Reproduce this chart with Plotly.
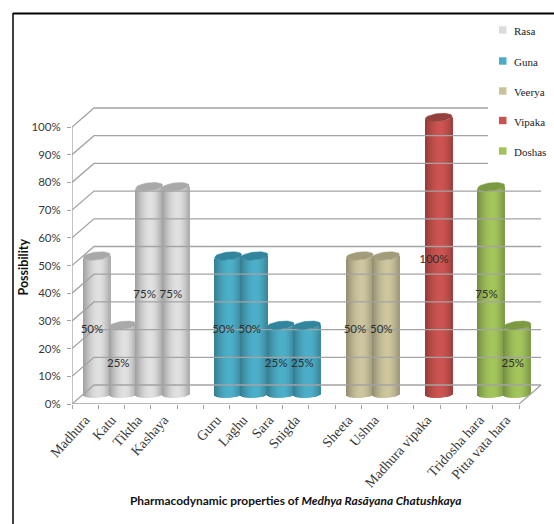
import math
import plotly.graph_objects as go

# Percentages per property group
rasa_names = ["Madhura", "Katu", "Tiktha", "Kashaya"]
rasa_values = [50, 25, 75, 75]
guna_names = ["Guru", "Laghu", "Sara", "Snigda"]
guna_values = [50, 50, 25, 25]
veerya_names = ["Sheeta", "Ushna"]
veerya_values = [50, 50]
vipaka_names = ["Madhura vipaka"]
vipaka_values = [100]
dosha_names = ["Tridosha hara", "Pitta vata hara"]
dosha_values = [75, 25]

group_names = ["Rasa", "Guna", "Veerya", "Vipaka", "Doshas"]
group_colors = ["#dcdcdc", "#4bacc6", "#c9c29b", "#c9524f", "#a0c25a"]
cap_colors = ["#a9a9a9", "#31859c", "#a29c7c", "#93403e", "#7b9a41"]
y_ticks = list(range(0, 101, 10))

W, H = 554, 524
LEFT, RIGHT, TOP, BOTTOM = 72, 545, 100, 404
SLOT_PX = 26.3
PCT_PX = 2.77
DEPTH_X = 22 / SLOT_PX   # wall offset in slots
DEPTH_Y = 19 / PCT_PX    # wall offset in percent
N_SLOTS = 17

GRID = "#a3a3a3"
TEXT = "#3a3a3a"


def paper_x(px):
    return (px - LEFT) / (RIGHT - LEFT)


def paper_y(py):
    return (BOTTOM - py) / (BOTTOM - TOP)


def shade(hex_color, f):
    r, g, b = (int(hex_color[i:i + 2], 16) for i in (1, 3, 5))
    return "rgb({},{},{})".format(*(min(255, round(c * f)) for c in (r, g, b)))


def cylinder_shade(t):
    # dark at both rims, brightest a little right of centre
    if t < 0.15:
        return 0.72 + 0.30 * math.sin((t + 1) / 1.15 * math.pi / 2)
    return 0.78 + 0.24 * math.cos((t - 0.15) / 0.85 * math.pi / 2)


fig = go.Figure()

# Walls and floor of the 3-D frame
for v in y_ticks:
    fig.add_trace(go.Scatter(
        x=[0, DEPTH_X, N_SLOTS + DEPTH_X],
        y=[v, v + DEPTH_Y, v + DEPTH_Y],
        mode="lines", line=dict(color=GRID, width=1.3),
        hoverinfo="skip", showlegend=False))
fig.add_trace(go.Scatter(
    x=[0, 0, None, 0, N_SLOTS, N_SLOTS + DEPTH_X],
    y=[100, 0, None, 0, 0, DEPTH_Y],
    mode="lines", line=dict(color=GRID, width=1.3),
    hoverinfo="skip", showlegend=False))

# Cylinders: each one is a fan of one-pixel bars so the body can carry a gradient
STRIPS = 27
HALF_W = 13.5 / SLOT_PX
BOTTOM_RY = 3.2 / PCT_PX
TOP_RY = 4.0 / PCT_PX
BOTTOM_TILT = 0.7 / PCT_PX
TOP_TILT = 1.4 / PCT_PX
FLOOR_Y = 9.5 / PCT_PX
CENTER_SHIFT = 0.437

groups = [
    (rasa_names, rasa_values),
    (guna_names, guna_values),
    (veerya_names, veerya_values),
    (vipaka_names, vipaka_values),
    (dosha_names, dosha_values),
]

tick_pos, tick_text = [], []
label_x, label_y, label_text = [], [], []
slot = 0
for g, (names, values) in enumerate(groups):
    for name, value in zip(names, values):
        cx = slot + 0.5 + CENTER_SHIFT
        step = 2 * HALF_W / STRIPS
        xs, bases, heights, colors = [], [], [], []
        for k in range(STRIPS):
            t = -1 + (k + 0.5) * 2 / STRIPS
            arc = math.sqrt(1 - t * t)
            base = FLOOR_Y - BOTTOM_RY * arc + BOTTOM_TILT * t
            top = value + FLOOR_Y - TOP_RY * arc + TOP_TILT * t
            xs.append(cx + t * HALF_W)
            bases.append(base)
            heights.append(top - base)
            colors.append(shade(group_colors[g], cylinder_shade(t)))
        fig.add_trace(go.Bar(
            x=xs, y=heights, base=bases, width=step,
            marker=dict(color=colors, line=dict(width=0)),
            name=name, hoverinfo="skip", showlegend=False))
        angles = [2 * math.pi * i / 40 for i in range(41)]
        fig.add_trace(go.Scatter(
            x=[cx + HALF_W * math.cos(a) for a in angles],
            y=[value + FLOOR_Y + TOP_RY * math.sin(a) + TOP_TILT * math.cos(a)
               for a in angles],
            mode="lines", fill="toself", fillcolor=cap_colors[g],
            line=dict(color=cap_colors[g], width=0.5),
            hoverinfo="skip", showlegend=False))
        tick_pos.append(slot + 0.5)
        tick_text.append(name)
        label_x.append(slot + 0.76)
        label_y.append(value / 2 + 1.8)
        label_text.append(f"{value}%")
        slot += 1
    slot += 1

fig.add_trace(go.Scatter(
    x=label_x, y=label_y, text=label_text, mode="text",
    textposition="middle center",
    textfont=dict(family="Lato", size=11.5, color="#2e2e2e"),
    hoverinfo="skip", showlegend=False))

shapes = [
    # clear panel behind the key
    dict(type="rect", xref="paper", yref="paper", layer="above",
         x0=paper_x(488), x1=paper_x(554), y0=paper_y(16), y1=paper_y(176),
         fillcolor="white", line=dict(width=0)),
    # frame along the top and left
    dict(type="line", xref="paper", yref="paper", layer="above",
         x0=paper_x(13), x1=paper_x(554), y0=paper_y(13.5), y1=paper_y(13.5),
         line=dict(color="black", width=2)),
    dict(type="line", xref="paper", yref="paper", layer="above",
         x0=paper_x(13), x1=paper_x(13), y0=paper_y(13), y1=paper_y(524),
         line=dict(color="black", width=1.5)),
]

annotations = [
    dict(text="<b>Possibility</b>", xref="paper", yref="paper",
         x=paper_x(23), y=paper_y(267.5), textangle=-90, showarrow=False,
         xanchor="center", yanchor="middle",
         font=dict(family="Lato", size=12.5, color="#111111")),
    dict(text="<b>Pharmacodynamic properties of <i>Medhya Rasāyana Chatushkaya</i></b>",
         xref="paper", yref="paper", x=paper_x(295), y=paper_y(500.5),
         showarrow=False, xanchor="center", yanchor="middle",
         font=dict(family="Lato", size=11.9, color="#111111")),
]

# Key on the right
KEY_Y = [30, 61, 91, 120.5, 151]
for name, color, ky in zip(group_names, group_colors, KEY_Y):
    shapes.append(dict(type="rect", xref="paper", yref="paper", layer="above",
                       x0=paper_x(499), x1=paper_x(506.5),
                       y0=paper_y(ky + 3.7), y1=paper_y(ky - 3.7),
                       fillcolor=color, line=dict(width=0)))
    annotations.append(dict(text=name, xref="paper", yref="paper",
                            x=paper_x(512), y=paper_y(ky + 1), showarrow=False,
                            xanchor="left", yanchor="middle",
                            font=dict(family="Liberation Serif", size=11,
                                      color="#222222")))

fig.update_layout(
    width=W, height=H,
    margin=dict(l=LEFT, r=W - RIGHT, t=TOP, b=H - BOTTOM, pad=0),
    paper_bgcolor="white", plot_bgcolor="white",
    barmode="overlay", showlegend=False,
    shapes=shapes, annotations=annotations,
    xaxis=dict(
        range=[0, (RIGHT - LEFT) / SLOT_PX],
        tickmode="array", tickvals=tick_pos, ticktext=tick_text,
        ticks="", tickangle=-48, showgrid=False, zeroline=False, showline=False,
        ticklabelstandoff=4,
        tickfont=dict(family="Liberation Serif", size=14, color=TEXT),
        minor=dict(tickmode="array", tickvals=list(range(N_SLOTS + 1)),
                   ticks="outside", ticklen=4, tickcolor=GRID, tickwidth=1.3,
                   showgrid=False),
    ),
    yaxis=dict(
        range=[0, (BOTTOM - TOP) / PCT_PX],
        tickmode="array", tickvals=y_ticks, ticktext=[f"{v}%" for v in y_ticks],
        ticks="outside", ticklen=4, tickcolor=GRID, tickwidth=1.3,
        showgrid=False, zeroline=False, showline=False,
        ticklabelstandoff=4,
        tickfont=dict(family="Lato", size=11.5, color=TEXT),
    ),
)

fig.write_html("out.html")
